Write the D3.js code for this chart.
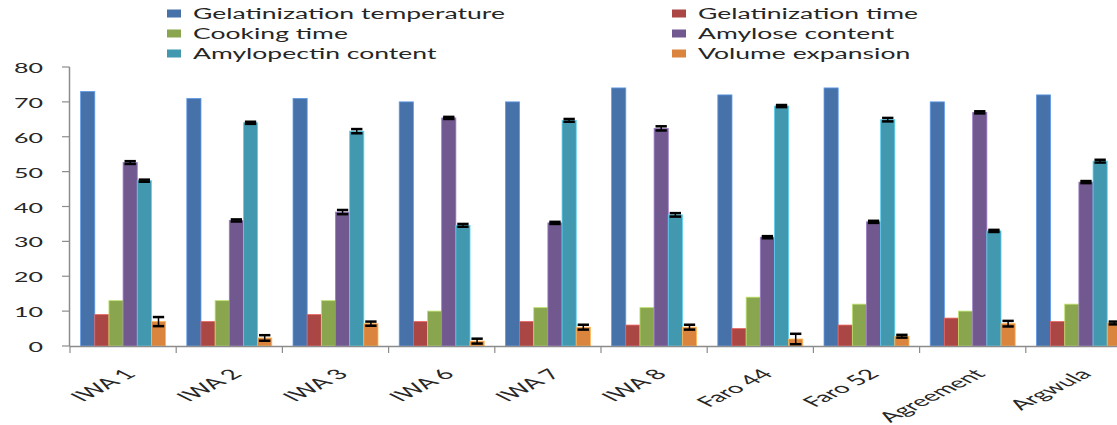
<!DOCTYPE html>
<html>
<head>
<meta charset="utf-8">
<script src="https://cdn.jsdelivr.net/npm/d3@7"></script>
<style>
  html, body { margin: 0; padding: 0; background: #fff; }
  svg { display: block; }
  text { font-family: Lato, "Open Sans", sans-serif; fill: #262626; }
</style>
</head>
<body>
<svg id="chart" width="1117" height="425"></svg>
<script>
// ---- data ----
const categories = ["IWA 1", "IWA 2", "IWA 3", "IWA 6", "IWA 7", "IWA 8", "Faro 44", "Faro 52", "Agreement", "Argwula"];
const seriesNames = ["Gelatinization temperature", "Gelatinization time", "Cooking time", "Amylose content", "Amylopectin content", "Volume expansion"];
const gelatinizationTemperature = [73, 71, 71, 70, 70, 74, 72, 74, 70, 72];
const gelatinizationTime = [9, 7, 9, 7, 7, 6, 5, 6, 8, 7];
const cookingTime = [13, 13, 13, 10, 11, 11, 14, 12, 10, 12];
const amyloseContent = [52.6, 36, 38.4, 65.4, 35.3, 62.4, 31.2, 35.6, 67, 47];
const amylopectinContent = [47.4, 64, 61.6, 34.6, 64.7, 37.6, 68.8, 64.9, 33.0, 53];
const volumeExpansion = [7, 2.3, 6.4, 1.4, 5.4, 5.4, 2, 2.8, 6.4, 6.6];
const amyloseError = [0.4, 0.3, 0.6, 0.3, 0.3, 0.6, 0.3, 0.3, 0.3, 0.3];
const amylopectinError = [0.3, 0.3, 0.6, 0.4, 0.4, 0.5, 0.3, 0.5, 0.3, 0.4];
const volumeError = [1.3, 0.8, 0.6, 0.7, 0.7, 0.7, 1.5, 0.4, 0.8, 0.4];
const yTicks = [0, 10, 20, 30, 40, 50, 60, 70, 80];

const seriesValues = [gelatinizationTemperature, gelatinizationTime, cookingTime, amyloseContent, amylopectinContent, volumeExpansion];
const seriesErrors = [null, null, null, amyloseError, amylopectinError, volumeError];
const colors = ["#4671A9", "#AA4643", "#89A54E", "#71588F", "#4198AF", "#DB843D"];

// ---- layout ----
const svg = d3.select("#chart");
const x0 = d3.scaleBand().domain(categories).range([70, 1132]).paddingInner(0.2).paddingOuter(0.1);
const x1 = d3.scaleBand().domain(d3.range(seriesNames.length)).range([0, x0.bandwidth()]);
const y = d3.scaleLinear().domain([0, 80]).range([346, 67]);

// bars
const groups = svg.append("g").selectAll("g")
  .data(categories).join("g")
  .attr("transform", d => `translate(${x0(d)},0)`);

groups.selectAll("rect")
  .data((c, i) => seriesValues.map((vals, s) => ({ s, v: vals[i], e: seriesErrors[s] ? seriesErrors[s][i] : null })))
  .join("rect")
  .attr("x", d => x1(d.s))
  .attr("y", d => y(d.v))
  .attr("width", x1.bandwidth())
  .attr("height", d => y(0) - y(d.v))
  .attr("fill", d => colors[d.s])
  .attr("stroke", d => d3.color(colors[d.s]).brighter(0.9))
  .attr("stroke-width", 0.8);

// error bars
const errG = groups.selectAll("g.err")
  .data((c, i) => seriesValues.map((vals, s) => ({ s, v: vals[i], e: seriesErrors[s] ? seriesErrors[s][i] : null })).filter(d => d.e != null))
  .join("g").attr("class", "err");
errG.append("line")
  .attr("x1", d => x1(d.s) + x1.bandwidth() / 2)
  .attr("x2", d => x1(d.s) + x1.bandwidth() / 2)
  .attr("y1", d => y(d.v + d.e)).attr("y2", d => y(d.v - d.e))
  .attr("stroke", "#000").attr("stroke-width", 1.5);
["+", "-"].forEach(sign => {
  errG.append("line")
    .attr("x1", d => x1(d.s) + x1.bandwidth() * 0.1)
    .attr("x2", d => x1(d.s) + x1.bandwidth() * 0.9)
    .attr("y1", d => y(sign === "+" ? d.v + d.e : d.v - d.e))
    .attr("y2", d => y(sign === "+" ? d.v + d.e : d.v - d.e))
    .attr("stroke", "#000").attr("stroke-width", 2.5);
});

// axes
const axisColor = "#8c8c8c";
svg.append("line").attr("x1", 69.5).attr("x2", 69.5).attr("y1", y(80)).attr("y2", y(0))
  .attr("stroke", axisColor).attr("stroke-width", 1.5);
svg.append("line").attr("x1", 69.5).attr("x2", 1132).attr("y1", y(0) + 0.5).attr("y2", y(0) + 0.5)
  .attr("stroke", axisColor).attr("stroke-width", 1.5);
svg.append("g").selectAll("line").data(yTicks).join("line")
  .attr("x1", 62).attr("x2", 69.5).attr("y1", d => y(d)).attr("y2", d => y(d))
  .attr("stroke", axisColor).attr("stroke-width", 1.2);
const boundaries = categories.map(c => x0(c) - x0.step() * x0.paddingInner() / 2).concat([1132]);
svg.append("g").selectAll("line").data(boundaries).join("line")
  .attr("x1", d => d).attr("x2", d => d).attr("y1", y(0)).attr("y2", y(0) + 7)
  .attr("stroke", axisColor).attr("stroke-width", 1.2);

// y tick labels (stretched horizontally like the source picture)
const yLab = svg.append("g").selectAll("text").data(yTicks).join("text")
  .text(d => d)
  .attr("text-anchor", "end")
  .style("font-size", "13px");
const w80 = yLab.filter(d => d === 80).node().getComputedTextLength();
const ySx = 29 / w80;
yLab.attr("transform", d => `translate(43,${y(d) + 6}) scale(${ySx},1)`);

// x labels (rotated, then stretched)
svg.append("g").selectAll("text").data(categories).join("text")
  .text(d => d)
  .attr("text-anchor", "end")
  .style("font-size", "14px")
  .attr("transform", d => `translate(${x0(d) + x0.bandwidth() / 2 + 14},${375}) scale(2.0,1) rotate(-45)`);

// legend
const legendPos = seriesNames.map((n, i) => ({ n, i, col: i % 2, row: Math.floor(i / 2) }));
const lg = svg.append("g").selectAll("g").data(legendPos).join("g");
lg.append("rect")
  .attr("x", d => d.col ? 672 : 167)
  .attr("y", d => 9.5 + d.row * 20)
  .attr("width", 14).attr("height", 8)
  .attr("fill", d => colors[d.i]);
const lt = lg.append("text").text(d => d.n).style("font-size", "15.5px");
const wLong = lt.filter(d => d.i === 0).node().getComputedTextLength();
const lSx = 312 / wLong;
lt.attr("transform", d => `translate(${d.col ? 698 : 193},${19 + d.row * 20}) scale(${lSx},1)`);
</script>
</body>
</html>
